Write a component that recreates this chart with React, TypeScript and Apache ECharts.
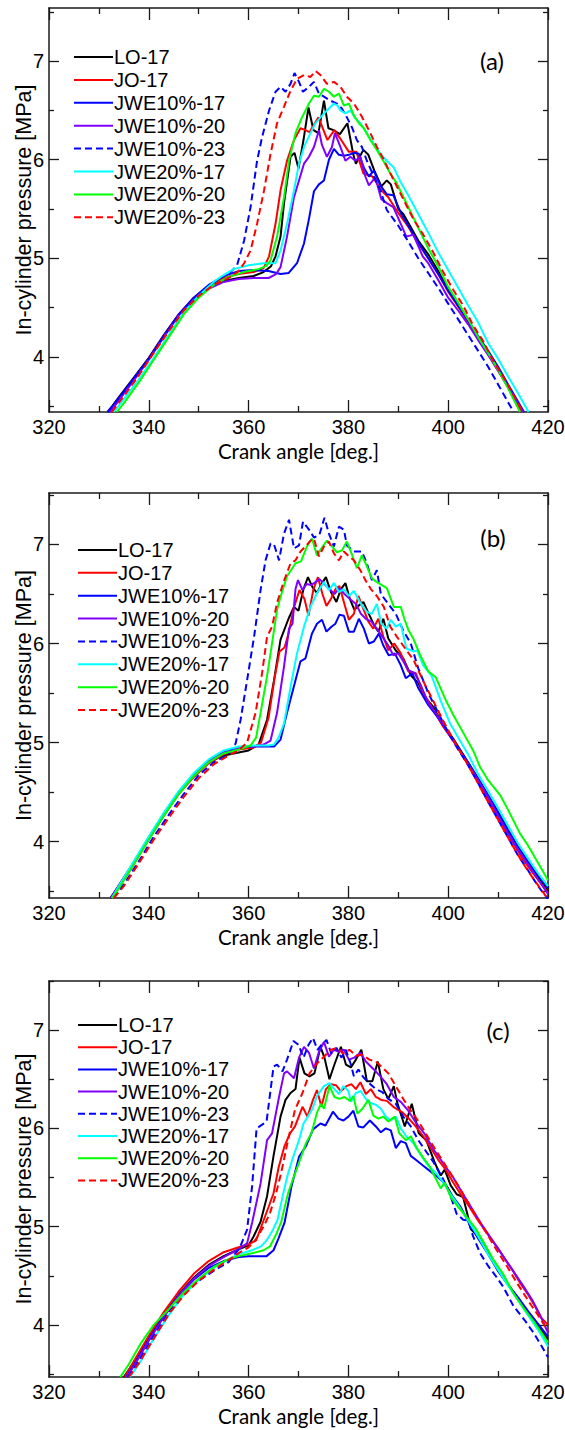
import React, { useEffect, useRef } from "react";
import * as echarts from "echarts";

const seriesNames = ["LO-17", "JO-17", "JWE10%-17", "JWE10%-20", "JWE10%-23", "JWE20%-17", "JWE20%-20", "JWE20%-23"];
const seriesColors = ["#000000", "#ff0000", "#0000ff", "#8000ff", "#0000ff", "#00ffff", "#00ff00", "#ff0000"];
const seriesDashed = [false, false, false, false, true, false, false, true];
const panelTags = ["(a)", "(b)", "(c)"];
const yMins = [3.44, 3.43, 3.47];
const yMaxs = [7.54, 7.52, 7.5];
const yMajorTicks = [4, 5, 6, 7];
const yMinorTicks = [3.5, 4.5, 5.5, 6.5, 7.5];
const xMin = 320;
const xMax = 420;
const xStep = 20;

// ---------- Panel (a) ----------
const aLO17 = [[331.8,3.44],[334,3.59],[337,3.79],[340,3.99],[343,4.22],[346,4.43],[349,4.59],[352,4.70],[355,4.77],[358,4.80],[361,4.82],[363,4.86],[364.5,4.92],[365.4,5.02],[366.4,5.22],[367.1,5.56],[368.4,6.03],[369.2,6.07],[370,5.91],[371,6.2],[372,6.53],[373,6.30],[374,6.27],[375.1,6.60],[376,6.32],[377,6.30],[378.3,6.26],[379.8,6.37],[381,6.05],[381.5,5.96],[383,6.10],[384,6.05],[385.2,5.89],[386.6,5.73],[387.7,5.79],[388.5,5.75],[390,5.5],[391,5.45],[392,5.36],[394,5.18],[396,5.04],[398,4.87],[400,4.68],[402,4.53],[404,4.37],[406,4.19],[408,4.04],[410,3.88],[412,3.70],[414.5,3.44]];
const aJO17 = [[332.3,3.44],[334,3.56],[337,3.77],[340,3.98],[343,4.21],[346,4.43],[349,4.60],[352,4.72],[355,4.80],[358,4.84],[361,4.86],[363,4.90],[364.1,5.02],[365.4,5.35],[366.4,5.69],[367.7,5.99],[369.1,6.20],[370.4,6.32],[371.4,6.30],[372.2,6.28],[374,6.43],[375.8,6.20],[377.2,6.30],[378.3,6.22],[380.1,6.08],[381.6,6.08],[383,5.86],[384.8,5.83],[386.6,5.69],[388,5.62],[390,5.46],[392,5.32],[394,5.15],[396,5.0],[398,4.84],[400,4.66],[402,4.51],[404,4.35],[406,4.18],[408,4.03],[410,3.86],[412,3.69],[414.7,3.44]];
const aJWE10_17 = [[331.9,3.44],[334,3.58],[337,3.78],[340,3.98],[343,4.21],[346,4.43],[349,4.60],[352,4.73],[355,4.82],[358,4.87],[361,4.88],[364,4.87],[366.4,4.84],[368,4.85],[369.7,4.95],[371.1,5.15],[372.1,5.40],[373.1,5.68],[374.1,5.75],[375.1,5.79],[376.1,6.0],[377.1,6.11],[378.1,6.05],[379.1,6.04],[380.1,6.05],[381.1,6.07],[382.1,6.06],[383.1,5.92],[384.1,5.83],[385.1,5.89],[386.4,5.74],[387.7,5.65],[389,5.64],[390.5,5.46],[392,5.33],[394,5.16],[396,5.0],[398,4.84],[400,4.67],[402,4.52],[404,4.37],[406,4.21],[408,4.06],[410,3.90],[412,3.72],[415.2,3.44]];
const aJWE10_20 = [[332.2,3.44],[334,3.56],[337,3.76],[340,3.97],[343,4.20],[346,4.42],[349,4.58],[352,4.69],[355,4.76],[358,4.79],[361,4.80],[364,4.80],[365.5,4.84],[366.4,4.91],[367.7,5.22],[369.1,5.62],[370.1,5.79],[371.1,5.96],[372.1,6.03],[373.1,6.13],[374.1,6.30],[374.7,6.15],[375.7,6.03],[376.7,6.13],[377.3,6.27],[378.4,6.13],[379.4,5.99],[380.4,6.03],[381.4,5.99],[382.4,6.03],[383.4,5.83],[384.1,5.74],[385.4,5.82],[386.6,5.60],[387.7,5.56],[389,5.52],[390.5,5.35],[391.6,5.22],[393,5.24],[394.9,5.02],[396,4.95],[398,4.78],[400,4.60],[402,4.47],[404,4.33],[406,4.17],[408,4.02],[410,3.86],[412,3.70],[415,3.44]];
const aJWE10_23 = [[331.7,3.44],[334,3.58],[337,3.78],[340,3.98],[343,4.21],[346,4.43],[349,4.58],[352,4.70],[355,4.82],[356.4,4.86],[357.7,4.93],[359.1,5.18],[360.4,5.52],[361.7,5.99],[362.7,6.23],[364.1,6.50],[365.4,6.69],[366.4,6.74],[367.4,6.69],[368.4,6.77],[369.2,6.88],[370.1,6.79],[370.9,6.69],[372.1,6.74],[373.1,6.79],[374.1,6.67],[375.1,6.64],[376.4,6.60],[377.7,6.57],[378.7,6.52],[379.7,6.43],[380.7,6.33],[381.7,6.20],[382.7,6.13],[383.7,5.99],[385.1,5.83],[386.4,5.69],[387.7,5.49],[390,5.33],[392,5.17],[394,5.0],[396,4.85],[398,4.70],[400,4.54],[402,4.38],[404,4.22],[406,4.06],[408,3.90],[410,3.72],[413.1,3.44]];
const aJWE20_17 = [[333.0,3.44],[335,3.57],[338,3.77],[341,3.99],[344,4.22],[347,4.45],[350,4.62],[353,4.76],[355,4.83],[357,4.89],[360,4.93],[363,4.95],[365.4,4.95],[366.4,5.08],[367.7,5.35],[369.1,5.69],[370.1,5.96],[371.1,6.13],[372.4,6.27],[373.4,6.37],[374.4,6.43],[375.7,6.50],[377.1,6.57],[377.8,6.55],[378.4,6.50],[379.4,6.47],[380.4,6.50],[381.4,6.42],[382.4,6.37],[383.7,6.27],[385.1,6.16],[386.4,6.06],[387.7,5.99],[389.1,5.92],[390.4,5.78],[392,5.64],[394,5.45],[396,5.26],[398,5.06],[400,4.88],[402,4.70],[404,4.52],[406,4.35],[408,4.14],[410,3.98],[412,3.80],[414,3.63],[416.1,3.44]];
const aJWE20_20 = [[333.6,3.44],[335,3.53],[338,3.74],[341,3.97],[344,4.20],[347,4.43],[350,4.60],[353,4.73],[356,4.81],[359,4.86],[362,4.89],[363.5,4.92],[364.4,4.98],[365.7,5.22],[367.1,5.62],[368.1,5.99],[369.4,6.27],[370.7,6.43],[372.1,6.57],[373.1,6.65],[374.1,6.64],[375.1,6.72],[376.1,6.69],[377.1,6.64],[378.1,6.67],[379.1,6.55],[380.1,6.57],[381.1,6.45],[382.1,6.37],[383.1,6.32],[384.4,6.20],[385.7,6.10],[387.1,5.98],[388.4,5.86],[389.7,5.76],[392,5.52],[394,5.31],[396,5.10],[398,4.92],[400,4.71],[402,4.55],[404,4.38],[406,4.20],[408,4.04],[410,3.87],[412,3.68],[414.4,3.44]];
const aJWE20_23 = [[332.6,3.44],[335,3.60],[338,3.81],[341,4.04],[344,4.26],[347,4.47],[350,4.62],[353,4.73],[356,4.80],[358,4.87],[359.1,4.95],[360.4,5.08],[361.7,5.35],[363.1,5.69],[364.4,6.06],[365.7,6.37],[367.1,6.54],[368.4,6.70],[369.7,6.82],[371.1,6.86],[372.4,6.84],[373.4,6.90],[374.4,6.86],[375.7,6.77],[377.1,6.79],[378.4,6.74],[379.7,6.64],[381.1,6.57],[382.1,6.49],[383.1,6.40],[384.4,6.27],[385.7,6.13],[387.1,6.00],[389.1,5.79],[391,5.60],[393,5.40],[395,5.24],[397,5.06],[399,4.86],[401,4.68],[403,4.52],[405,4.32],[407,4.16],[409,3.96],[411,3.80],[413,3.62],[414.9,3.44]];

// ---------- Panel (b) ----------
const bLO17 = [[332.3,3.43],[334,3.55],[337,3.78],[340,4.03],[343,4.27],[346,4.49],[349,4.66],[352,4.80],[355,4.87],[358,4.90],[360,4.92],[362,4.98],[363.7,5.23],[365.1,5.63],[366.4,6.04],[368,6.25],[369.1,6.37],[370,6.33],[371,6.55],[371.9,6.67],[372.8,6.57],[373.7,6.51],[374.6,6.60],[375.5,6.67],[376.5,6.52],[377.6,6.42],[378.5,6.55],[379.4,6.61],[380.3,6.45],[381.2,6.34],[382,6.38],[383,6.42],[384,6.31],[385.2,6.18],[386,6.12],[387,6.25],[388,6.05],[389.5,5.93],[391,5.85],[392.5,5.68],[394,5.60],[395.5,5.45],[397,5.36],[399,5.18],[401,5.04],[403,4.88],[405,4.71],[407,4.54],[409,4.37],[411,4.18],[413,4.00],[415,3.85],[417,3.71],[419,3.57],[420,3.50]];
const bJO17 = [[332.5,3.43],[334,3.54],[337,3.77],[340,4.02],[343,4.26],[346,4.48],[349,4.65],[352,4.79],[355,4.88],[358,4.93],[361,4.95],[362.5,5.0],[364,5.25],[365.2,5.65],[366.2,5.92],[367.2,5.96],[368,6.10],[369,6.35],[370.2,6.54],[371.2,6.45],[372,6.28],[373,6.55],[373.9,6.67],[374.8,6.50],[375.6,6.38],[376.5,6.45],[377.4,6.55],[378.2,6.58],[379.2,6.40],[380.1,6.24],[381.1,6.30],[382,6.48],[383,6.35],[384,6.22],[385,6.15],[386,6.25],[387,6.07],[388,5.93],[389.2,6.0],[390.5,5.90],[392,5.72],[393.5,5.70],[395,5.50],[397,5.33],[399,5.16],[401,5.02],[403,4.86],[405,4.69],[407,4.51],[409,4.34],[411,4.16],[413,3.99],[415,3.82],[417,3.68],[419,3.55],[420,3.48]];
const bJWE10_17 = [[332.4,3.43],[334,3.55],[337,3.79],[340,4.03],[343,4.27],[346,4.49],[349,4.67],[352,4.81],[355,4.90],[358,4.95],[361,4.96],[364,4.96],[365.1,4.96],[366.4,5.03],[367.7,5.30],[369.4,5.63],[370.4,5.82],[371.4,5.85],[372.7,6.10],[373.7,6.20],[374.7,6.24],[375.6,6.12],[376.6,6.17],[377.4,6.20],[378.2,6.29],[379.1,6.28],[380.1,6.12],[381.1,6.12],[382.1,6.25],[383.1,6.15],[384.1,6.00],[385.1,6.02],[386.1,6.10],[387,5.98],[388.1,5.88],[389.3,5.90],[390.5,5.78],[391.5,5.65],[392.8,5.70],[394,5.55],[396,5.38],[398,5.25],[400,5.10],[402,4.95],[404,4.80],[406,4.64],[408,4.47],[410,4.30],[412,4.12],[414,3.95],[416,3.80],[418,3.66],[420,3.53]];
const bJWE10_20 = [[332.4,3.43],[334,3.56],[337,3.79],[340,4.04],[343,4.28],[346,4.50],[349,4.67],[352,4.81],[355,4.90],[358,4.95],[361,4.96],[363,4.98],[364.4,5.02],[365.7,5.30],[367.1,5.77],[368.1,6.15],[368.8,6.20],[369.4,6.55],[369.9,6.64],[370.8,6.54],[371.6,6.60],[372.5,6.59],[373.4,6.62],[374.2,6.65],[375.2,6.60],[376.2,6.55],[377.2,6.50],[378.2,6.56],[379.2,6.50],[380.3,6.45],[381.5,6.40],[382.5,6.30],[383.5,6.25],[384.6,6.22],[385.7,6.15],[386.8,6.07],[388,5.98],[389,5.88],[390,5.90],[391,5.82],[392,5.73],[393.3,5.70],[394.5,5.58],[396,5.40],[398,5.26],[400,5.10],[402,4.94],[404,4.78],[406,4.62],[408,4.45],[410,4.26],[412,4.08],[414,3.92],[416,3.77],[418,3.62],[420,3.47]];
const bJWE10_23 = [[332.8,3.43],[335,3.57],[338,3.80],[341,4.05],[344,4.27],[347,4.48],[350,4.67],[353,4.80],[356,4.88],[357.4,4.99],[358.4,5.23],[359.7,5.63],[361.1,6.07],[362.4,6.54],[363.4,6.84],[364.4,7.01],[365.1,7.00],[366.1,6.84],[367.1,7.11],[368.1,7.25],[369.1,6.96],[370.1,6.99],[370.9,7.23],[372.1,7.15],[373.1,7.07],[374.2,7.10],[375.2,7.27],[376.1,7.11],[377.1,6.98],[378.1,7.18],[379.1,7.15],[379.7,6.99],[381.1,6.93],[382.7,6.93],[383.7,6.81],[384.7,6.64],[385.7,6.74],[386.5,6.50],[388,6.40],[389.5,6.30],[391,6.13],[392.5,6.0],[394,5.75],[396,5.50],[398,5.30],[400,5.10],[402,4.93],[404,4.77],[406,4.59],[408,4.40],[410,4.22],[412,4.04],[414,3.86],[416,3.71],[418,3.55],[420,3.42]];
const bJWE20_17 = [[332.6,3.43],[334,3.55],[337,3.80],[340,4.05],[343,4.29],[346,4.51],[349,4.69],[352,4.83],[355,4.92],[358,4.96],[361,4.97],[364,4.97],[365.1,4.98],[366,5.05],[367.1,5.19],[368.4,5.56],[369.7,5.90],[371.1,6.17],[372.4,6.37],[373.7,6.51],[375.1,6.62],[376.1,6.54],[377.1,6.61],[378.1,6.52],[379.1,6.55],[380.1,6.48],[381.1,6.53],[382.4,6.41],[383.7,6.32],[384.7,6.30],[385.7,6.40],[386.6,6.20],[387.7,6.15],[388.5,6.24],[389.5,6.17],[390.5,6.20],[391.6,5.95],[393,5.92],[393.8,5.93],[395,5.78],[396.7,5.67],[398.5,5.42],[400.3,5.20],[402,5.05],[404,4.88],[406,4.68],[408,4.51],[410,4.34],[412,4.16],[414,3.98],[416,3.83],[418,3.68],[420,3.55]];
const bJWE20_20 = [[332.7,3.43],[334,3.53],[337,3.77],[340,4.02],[343,4.26],[346,4.48],[349,4.66],[352,4.80],[355,4.89],[358,4.93],[360.4,4.97],[361.5,5.05],[362.4,5.30],[363.7,5.67],[364.4,5.90],[365.7,6.34],[366.4,6.47],[367.7,6.68],[369.4,6.81],[370.5,6.83],[371.7,6.98],[372.7,7.06],[373.7,6.89],[374.7,6.97],[375.7,7.04],[376.7,6.98],[377.7,6.92],[378.7,6.94],[379.7,7.03],[380.7,6.90],[381.7,6.76],[382.7,6.89],[383.7,6.78],[384.7,6.66],[385.7,6.62],[387.7,6.56],[389.1,6.37],[390.5,6.37],[391.2,6.25],[392,6.14],[393,6.05],[394.5,5.87],[396,5.72],[397.5,5.66],[399.5,5.43],[401,5.28],[403,5.10],[405,4.92],[406.4,4.75],[408,4.62],[410.4,4.47],[412,4.32],[414.4,4.08],[416,3.96],[418.4,3.75],[420,3.61]];
const bJWE20_23 = [[333,3.43],[335,3.55],[338,3.78],[341,4.02],[344,4.24],[347,4.45],[350,4.64],[353,4.78],[356,4.87],[358,4.92],[359.7,5.0],[361.4,5.30],[362.7,5.70],[363.7,6.07],[364.7,6.17],[365.7,6.41],[367,6.62],[368.4,6.81],[369.4,6.84],[370.4,6.93],[371.4,6.98],[372.4,7.04],[373.1,7.06],[374.1,6.88],[375.1,6.98],[376.1,7.03],[377.1,6.91],[378.1,6.84],[379.1,6.93],[380.1,6.88],[381.1,6.84],[382.4,6.74],[383.4,6.64],[384.5,6.55],[385.7,6.48],[387.1,6.37],[388.4,6.17],[389.7,6.07],[391.1,5.97],[393.1,5.83],[395,5.62],[397,5.42],[399,5.22],[401,5.03],[403,4.86],[405,4.68],[407,4.49],[409,4.31],[411,4.13],[413,3.95],[415,3.78],[417,3.63],[419,3.49],[420,3.42]];

// ---------- Panel (c) ----------
const cLO17 = [[335,3.47],[337,3.62],[340,3.87],[343,4.10],[346,4.31],[349,4.48],[352,4.61],[355,4.70],[358,4.77],[360,4.81],[361,4.90],[362.4,5.05],[363.7,5.31],[365,5.72],[366.4,6.12],[367.4,6.29],[368.4,6.36],[369.4,6.40],[370.2,6.72],[371.2,6.56],[372.2,6.53],[373.2,6.56],[374.4,6.83],[375.2,6.72],[376.2,6.50],[377.2,6.65],[378.5,6.83],[379.5,6.65],[380.5,6.62],[381.5,6.70],[382.6,6.80],[383.7,6.48],[384.8,6.48],[385.9,6.68],[387,6.40],[388,6.30],[389.1,6.43],[389.8,6.26],[391.3,6.02],[392.7,6.25],[394.1,5.95],[395.6,5.88],[397.4,5.64],[398.5,5.52],[399.3,5.58],[400.5,5.42],[401.7,5.33],[403,5.30],[404.6,4.97],[406.7,4.87],[408,4.75],[410,4.55],[412,4.41],[414,4.27],[416,4.13],[418,3.99],[420,3.85]];
const cJO17 = [[335.2,3.47],[337,3.63],[340,3.89],[343,4.13],[346,4.34],[349,4.52],[352,4.65],[355,4.74],[358,4.79],[360,4.82],[361.5,4.86],[362.9,5.05],[364,5.20],[365,5.34],[366,5.60],[367.2,5.82],[368.3,5.95],[369.3,6.02],[370.8,6.22],[371.8,6.12],[372.9,6.29],[373.7,6.39],[374.6,6.22],[375.5,6.40],[376.5,6.45],[377.5,6.44],[378.5,6.38],[379.6,6.43],[380.6,6.45],[381.5,6.40],[382.4,6.47],[383.5,6.35],[384.5,6.40],[385.5,6.32],[386.6,6.29],[387.7,6.28],[389,6.22],[390.9,6.16],[392.3,6.09],[393.5,6.02],[395,5.92],[396.5,5.80],[398,5.68],[399.5,5.58],[401,5.45],[402.5,5.33],[404,5.22],[405.5,5.10],[407,4.99],[408.5,4.88],[410,4.78],[411.5,4.66],[413,4.55],[414.5,4.42],[416,4.31],[417.5,4.18],[418.5,4.08],[420,4.00]];
const cJWE10_17 = [[335.5,3.47],[337,3.59],[340,3.85],[343,4.09],[346,4.30],[349,4.46],[352,4.58],[355,4.65],[358,4.69],[360,4.70],[362,4.70],[363.6,4.70],[365,4.76],[366,4.88],[367.2,5.04],[368.6,5.41],[370.1,5.71],[371.5,5.82],[372.9,5.99],[374.4,6.05],[375.4,6.03],[376.9,6.17],[378,6.10],[379,6.08],[380,6.12],[381,6.18],[382,6.02],[383,6.01],[384.3,6.08],[385.5,6.02],[386.5,5.96],[387.5,6.0],[388.5,5.98],[389.5,5.80],[390.5,5.87],[391.5,5.85],[392.5,5.72],[393.5,5.68],[395,5.62],[396.5,5.56],[398,5.50],[399.5,5.43],[401,5.30],[402.5,5.20],[404,5.05],[406,4.88],[408,4.72],[410,4.55],[412,4.41],[414,4.28],[416,4.14],[418,4.01],[420,3.88]];
const cJWE10_20 = [[335.6,3.47],[337,3.58],[340,3.84],[343,4.08],[346,4.30],[349,4.47],[352,4.60],[355,4.69],[358,4.77],[359.7,4.83],[360.7,5.04],[362.4,5.44],[363.7,5.88],[364.7,5.95],[366.1,6.32],[367.1,6.56],[367.7,6.58],[369.1,6.51],[370.1,6.72],[371.1,6.83],[372.1,6.77],[373.1,6.61],[374.1,6.78],[375.1,6.88],[376.1,6.73],[377.1,6.80],[378.1,6.78],[379.1,6.80],[380.1,6.70],[381.2,6.72],[382.4,6.77],[383.5,6.68],[385.1,6.60],[386.4,6.53],[387.7,6.45],[389.1,6.32],[390.5,6.27],[392,6.18],[393.5,6.06],[395.2,5.95],[397,5.79],[399.5,5.61],[401,5.50],[403,5.33],[405.3,5.14],[407,5.0],[409,4.85],[411,4.70],[413,4.55],[415,4.40],[417,4.24],[418.5,4.09],[420,3.92]];
const cJWE10_23 = [[335.8,3.47],[338,3.63],[341,3.89],[344,4.13],[347,4.32],[350,4.45],[353,4.55],[356,4.64],[358.2,4.78],[359.7,4.97],[360.7,5.41],[361.6,6.00],[362.2,6.02],[363.6,6.07],[365,6.63],[365.7,6.65],[366.8,6.58],[367.7,6.70],[369,6.89],[370,6.85],[371,6.72],[372,6.85],[372.9,6.92],[373.8,6.80],[374.6,6.85],[375.6,6.90],[376.6,6.76],[377.6,6.82],[378.6,6.72],[379.5,6.80],[380.5,6.65],[381.1,6.53],[382,6.60],[383,6.52],[384.4,6.45],[385.5,6.40],[386.8,6.37],[388,6.30],[389.5,6.25],[391,6.12],[392.5,6.02],[394,5.88],[395.5,5.77],[397,5.66],[398.5,5.53],[400,5.38],[401.7,5.13],[403,5.07],[404,5.06],[405,4.90],[406.4,4.73],[408,4.60],[409.5,4.50],[411,4.39],[413.1,4.19],[415.3,4.05],[417.1,3.92],[419,3.76],[420,3.67]];
const cJWE20_17 = [[336.2,3.47],[338,3.60],[341,3.86],[344,4.10],[347,4.31],[350,4.46],[353,4.58],[356,4.67],[358,4.72],[360.7,4.76],[362.5,4.80],[363.6,4.86],[364.7,4.95],[365.8,5.07],[367,5.35],[367.9,5.54],[369,5.72],[370.1,5.88],[371,6.05],[371.9,6.12],[372.8,6.20],[373.7,6.33],[375.1,6.43],[376.2,6.46],[377.2,6.40],[378.1,6.35],[379,6.43],[380,6.38],[380.5,6.27],[381.5,6.36],[382.5,6.38],[383.5,6.30],[384.4,6.26],[385.5,6.24],[386.5,6.20],[387.5,6.12],[388.5,6.08],[389.5,6.12],[390.5,6.0],[391.6,5.92],[393,5.85],[394.5,5.73],[396,5.62],[397.5,5.55],[399,5.45],[400.5,5.33],[402,5.22],[404,5.06],[406,4.90],[408,4.72],[410,4.56],[412,4.40],[414,4.25],[416,4.10],[418,3.95],[420,3.78]];
const cJWE20_20 = [[334.3,3.47],[336,3.60],[338.5,3.82],[341,4.0],[344,4.16],[347,4.33],[350,4.47],[353,4.59],[356,4.67],[358,4.70],[360.7,4.73],[363,4.76],[364.3,4.80],[365.5,4.92],[366.5,5.04],[367.9,5.34],[369,5.50],[370.1,5.65],[371.5,5.85],[372.6,5.95],[373.7,6.16],[374.5,6.25],[375.1,6.20],[376.2,6.43],[377.2,6.32],[378.2,6.30],[379.2,6.32],[380.3,6.28],[381,6.33],[381.8,6.15],[382.8,6.20],[384,6.29],[385,6.13],[386,6.10],[387,6.12],[388,6.07],[389.3,6.12],[390.2,5.95],[391.5,5.88],[392.5,5.92],[393.7,5.80],[395,5.70],[396.2,5.62],[397.4,5.50],[398.5,5.39],[399.3,5.45],[400.5,5.30],[402,5.20],[403.7,5.10],[405.5,4.98],[407,4.85],[409.1,4.66],[411,4.52],[413.1,4.32],[415,4.18],[417.1,4.04],[419,3.90],[420,3.82]];
const cJWE20_23 = [[336,3.47],[338,3.61],[341,3.86],[344,4.11],[347,4.30],[350,4.45],[353,4.56],[356,4.66],[358,4.73],[360,4.79],[361,4.84],[362.2,4.93],[363.2,5.02],[364.3,5.14],[365.4,5.32],[366.5,5.54],[367.9,5.88],[369.3,6.19],[370.8,6.36],[372.2,6.56],[373.7,6.66],[375.1,6.73],[376.5,6.80],[377.8,6.82],[379,6.76],[380.2,6.80],[381.5,6.74],[382.8,6.75],[384.2,6.70],[385.5,6.68],[386.6,6.63],[388,6.56],[389.5,6.43],[391,6.30],[392.5,6.18],[393.8,6.09],[395.5,5.95],[397,5.82],[398.5,5.70],[400,5.58],[401.5,5.46],[403,5.33],[404.5,5.20],[406,5.07],[407.5,4.95],[409,4.82],[410.5,4.70],[412,4.58],[413.5,4.45],[415,4.33],[416.5,4.21],[418,4.10],[420,3.94]];

const panelData = [
  [aLO17, aJO17, aJWE10_17, aJWE10_20, aJWE10_23, aJWE20_17, aJWE20_20, aJWE20_23],
  [bLO17, bJO17, bJWE10_17, bJWE10_20, bJWE10_23, bJWE20_17, bJWE20_20, bJWE20_23],
  [cLO17, cJO17, cJWE10_17, cJWE10_20, cJWE10_23, cJWE20_17, cJWE20_20, cJWE20_23],
];

// ---------- layout ----------
const gridLeft = 49;
const gridWidth = 499;
const gridTops = [8, 493, 981];
const gridHeights = [404, 405, 396];
const legendLefts = [74, 78, 78];
const legendFirstRow = [57, 550, 1025];
const legendPitch = [22.9, 22.86, 22.2];
const legendLineLen = 39;
const tagPos = [[492, 60], [493, 537], [498, 1030]];

const AX = "#1a1a1a";
const numFont = "'Liberation Sans', Arial, sans-serif";
const titleFont = "Lato, 'Open Sans', sans-serif";

function buildOption() {
  const grid = gridTops.map((t, i) => ({
    left: gridLeft,
    top: t,
    width: gridWidth,
    height: gridHeights[i],
    containLabel: false,
    outerBoundsMode: "none",
  }));
  const axisLine = { show: true, onZero: false, lineStyle: { color: AX, width: 1.5 } };
  const noLine = { show: false, onZero: false };
  const tickStyle = { color: AX, width: 1.3 };
  const xAxis: any[] = [];
  const yAxis: any[] = [];
  for (let i = 0; i < 3; i++) {
    xAxis.push({
      type: "value",
      gridIndex: i,
      position: "bottom",
      min: xMin,
      max: xMax,
      interval: xStep,
      axisLine,
      axisTick: { show: true, inside: true, length: 12, lineStyle: tickStyle },
      minorTick: { show: true, splitNumber: 2, length: 6, lineStyle: tickStyle },
      splitLine: { show: false },
      minorSplitLine: { show: false },
      axisLabel: { show: true, margin: 5, fontSize: 20, fontFamily: numFont, color: "#000" },
      name: "Crank angle [deg.]",
      nameLocation: "middle",
      nameGap: 28,
      nameMoveOverlap: false,
      nameTextStyle: { fontFamily: titleFont, fontSize: 20.5, color: "#000" },
    });
    xAxis.push({
      type: "value",
      gridIndex: i,
      position: "top",
      min: xMin,
      max: xMax,
      interval: xStep,
      axisLine,
      axisTick: { show: true, inside: true, length: 12, lineStyle: tickStyle },
      minorTick: { show: true, splitNumber: 2, length: 6, lineStyle: tickStyle },
      splitLine: { show: false },
      axisLabel: { show: false },
    });
    yAxis.push({
      type: "value",
      gridIndex: i,
      position: "left",
      min: yMins[i],
      max: yMaxs[i],
      axisLine,
      axisTick: { show: true, inside: true, length: 10, customValues: yMajorTicks, lineStyle: tickStyle },
      splitLine: { show: false },
      axisLabel: { show: true, customValues: yMajorTicks, margin: 5, fontSize: 20, fontFamily: numFont, color: "#000" },
      name: "In-cylinder pressure [MPa]",
      nameLocation: "middle",
      nameRotate: 90,
      nameGap: 14,
      nameMoveOverlap: false,
      nameTextStyle: { fontFamily: numFont, fontSize: 21.5, color: "#000" },
    });
    yAxis.push({
      type: "value",
      gridIndex: i,
      position: "right",
      min: yMins[i],
      max: yMaxs[i],
      axisLine,
      axisTick: { show: true, inside: true, length: 10, customValues: yMajorTicks, lineStyle: tickStyle },
      splitLine: { show: false },
      axisLabel: { show: false },
    });
    yAxis.push({
      type: "value",
      gridIndex: i,
      position: "left",
      min: yMins[i],
      max: yMaxs[i],
      axisLine: noLine,
      axisTick: { show: true, inside: true, length: 5, customValues: yMinorTicks, lineStyle: tickStyle },
      splitLine: { show: false },
      axisLabel: { show: false },
    });
    yAxis.push({
      type: "value",
      gridIndex: i,
      position: "right",
      min: yMins[i],
      max: yMaxs[i],
      axisLine: noLine,
      axisTick: { show: true, inside: true, length: 5, customValues: yMinorTicks, lineStyle: tickStyle },
      splitLine: { show: false },
      axisLabel: { show: false },
    });
  }
  const series: any[] = [];
  panelData.forEach((arr, p) => {
    arr.forEach((d, k) => {
      series.push({
        type: "line",
        name: seriesNames[k],
        xAxisIndex: 2 * p,
        yAxisIndex: 4 * p,
        data: d,
        symbol: "none",
        showSymbol: false,
        clip: true,
        lineStyle: { color: seriesColors[k], width: 2, type: seriesDashed[k] ? [7, 4] : "solid" },
        itemStyle: { color: seriesColors[k] },
        emphasis: { disabled: true },
      });
    });
  });
  const graphic: any[] = [];
  for (let p = 0; p < 3; p++) {
    seriesNames.forEach((nm, k) => {
      const y = legendFirstRow[p] + k * legendPitch[p];
      const x0 = legendLefts[p];
      graphic.push({
        type: "line",
        shape: { x1: x0, y1: y, x2: x0 + legendLineLen, y2: y },
        style: {
          stroke: seriesColors[k],
          lineWidth: 2,
          lineDash: seriesDashed[k] ? [7, 4] : null,
        },
        silent: true,
      });
      graphic.push({
        type: "text",
        x: x0 + legendLineLen + 1,
        y,
        style: {
          text: nm,
          fontFamily: numFont,
          fontSize: 20,
          fill: "#000",
          align: "left",
          verticalAlign: "middle",
        },
        silent: true,
      });
    });
    graphic.push({
      type: "text",
      x: tagPos[p][0],
      y: tagPos[p][1],
      style: {
        text: panelTags[p],
        fontFamily: titleFont,
        fontSize: 24,
        fill: "#000",
        align: "center",
        verticalAlign: "middle",
      },
      silent: true,
    });
  }
  return {
    animation: false,
    backgroundColor: "#ffffff",
    grid,
    xAxis,
    yAxis,
    graphic,
    series,
  };
}

export default function App() {
  const ref = useRef<HTMLDivElement>(null);
  useEffect(() => {
    if (!ref.current) return;
    const chart = echarts.init(ref.current, null, { renderer: "svg" });
    chart.setOption(buildOption() as any);
    return () => chart.dispose();
  }, []);
  return (
    <div
      ref={ref}
      style={{ position: "absolute", left: 0, top: 0, width: 565, height: 1430, background: "#fff" }}
    />
  );
}
